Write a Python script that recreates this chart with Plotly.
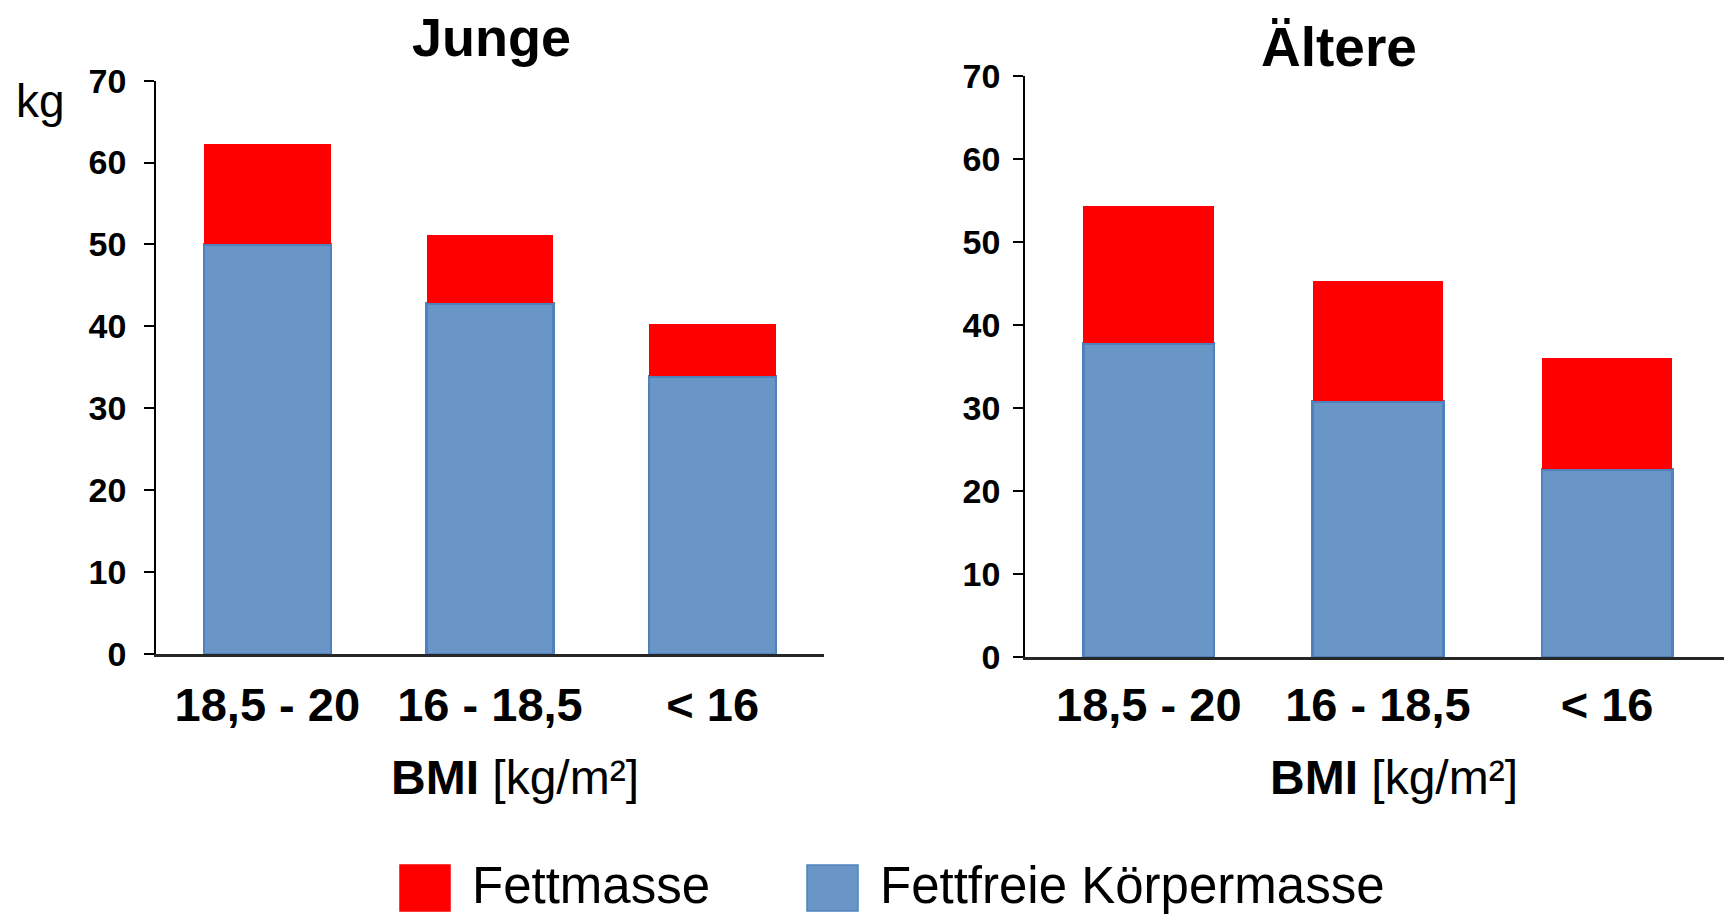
import plotly.graph_objects as go

# The page body has an 8px margin, so the figure is drawn 8px smaller on each side
OFF = 8
W, H = 1732 - 2 * OFF, 923 - 2 * OFF

categories = ["18,5 - 20", "16 - 18,5", "< 16"]
junge_ffm = [50.0, 42.8, 33.9]
junge_fat = [12.2, 8.4, 6.4]
aeltere_ffm = [37.8, 30.8, 22.6]
aeltere_fat = [16.5, 14.5, 13.4]
y_ticks = [0, 10, 20, 30, 40, 50, 60, 70]

series_names = ["Fettmasse", "Fettfreie Körpermasse"]
panel_titles = ["Junge", "Ältere"]
x_title = "<b>BMI</b> [kg/m²]"
y_unit = "kg"

RED = "#FF0000"
BLUE = "#6A95C7"
BLUE_EDGE = "#4F81BD"
FONT = "Liberation Sans, Arial, sans-serif"


def px(x):
    return (x - OFF) / W


def py(y):
    return 1 - (y - OFF) / H


fig = go.Figure()

for ffm, fat, xa, ya in [(junge_ffm, junge_fat, "x", "y"),
                         (aeltere_ffm, aeltere_fat, "x2", "y2")]:
    fig.add_trace(go.Bar(x=categories, y=ffm, name=series_names[1], xaxis=xa, yaxis=ya,
                         marker=dict(color=BLUE, line=dict(color=BLUE_EDGE, width=2.5)),
                         width=0.57, showlegend=False))
    fig.add_trace(go.Bar(x=categories, y=fat, name=series_names[0], xaxis=xa, yaxis=ya,
                         marker=dict(color=RED, line=dict(width=0)),
                         width=0.57, showlegend=False))


def yaxis_style(standoff):
    return dict(range=[0, 70], tickvals=y_ticks, showgrid=False, zeroline=False,
                automargin=False,
                showline=True, linecolor="black", linewidth=1.5,
                ticks="outside", ticklen=10, tickwidth=1.5, tickcolor="black",
                tickfont=dict(family=FONT, size=34, color="black", weight="bold"),
                ticklabelstandoff=standoff)


def xaxis_style(standoff):
    return dict(showgrid=False, zeroline=False, showline=True, linecolor="#262626",
                automargin=False, linewidth=2.5, ticks="",
                tickfont=dict(family=FONT, size=47, color="black", weight="bold"),
                ticklabelstandoff=standoff)


fig.update_layout(
    width=W, height=H,
    margin=dict(l=0, r=0, t=0, b=0, autoexpand=False),
    paper_bgcolor="white", plot_bgcolor="white",
    barmode="stack", showlegend=False,
    xaxis=dict(domain=[px(156), px(824)], range=[-0.5, 2.5], anchor="y", **xaxis_style(8)),
    yaxis=dict(domain=[py(654), py(80.6)], anchor="x", **yaxis_style(11)),
    xaxis2=dict(domain=[px(1025), px(1724)], range=[-0.54, 2.51], anchor="y2", **xaxis_style(5)),
    yaxis2=dict(domain=[py(657), py(76.2)], anchor="x2", **yaxis_style(6)),
)

# Panel titles
fig.add_annotation(text="<b>" + panel_titles[0] + "</b>", x=px(491), y=py(37), xref="paper", yref="paper",
                   showarrow=False, xanchor="center", yanchor="middle",
                   font=dict(family=FONT, size=54, color="black"))
fig.add_annotation(text="<b>" + panel_titles[1] + "</b>", x=px(1339), y=py(47), xref="paper", yref="paper",
                   showarrow=False, xanchor="center", yanchor="middle",
                   font=dict(family=FONT, size=55, color="black"))
# unit label
fig.add_annotation(text=y_unit, x=px(40), y=py(101), xref="paper", yref="paper",
                   showarrow=False, xanchor="center", yanchor="middle",
                   font=dict(family=FONT, size=46, color="black"))
# x axis titles
for cx in (515, 1394):
    fig.add_annotation(text=x_title, x=px(cx), y=py(777), xref="paper", yref="paper",
                       showarrow=False, xanchor="center", yanchor="middle",
                       font=dict(family=FONT, size=48, color="black"))

# Legend (manual, large swatches)
legend_items = [(series_names[0], RED, RED, 400, 450, 470),
                (series_names[1], BLUE, BLUE_EDGE, 807, 858, 878)]
for name, fill, edge, x0, x1, tx in legend_items:
    fig.add_shape(type="rect", xref="paper", yref="paper",
                  x0=px(x0), x1=px(x1), y0=py(911), y1=py(865),
                  fillcolor=fill, line=dict(color=edge, width=1.5))
    fig.add_annotation(text=name, x=px(tx), y=py(885), xref="paper", yref="paper",
                       showarrow=False, xanchor="left", yanchor="middle",
                       font=dict(family=FONT, size=51, color="black"))

fig.write_html("out.html")
